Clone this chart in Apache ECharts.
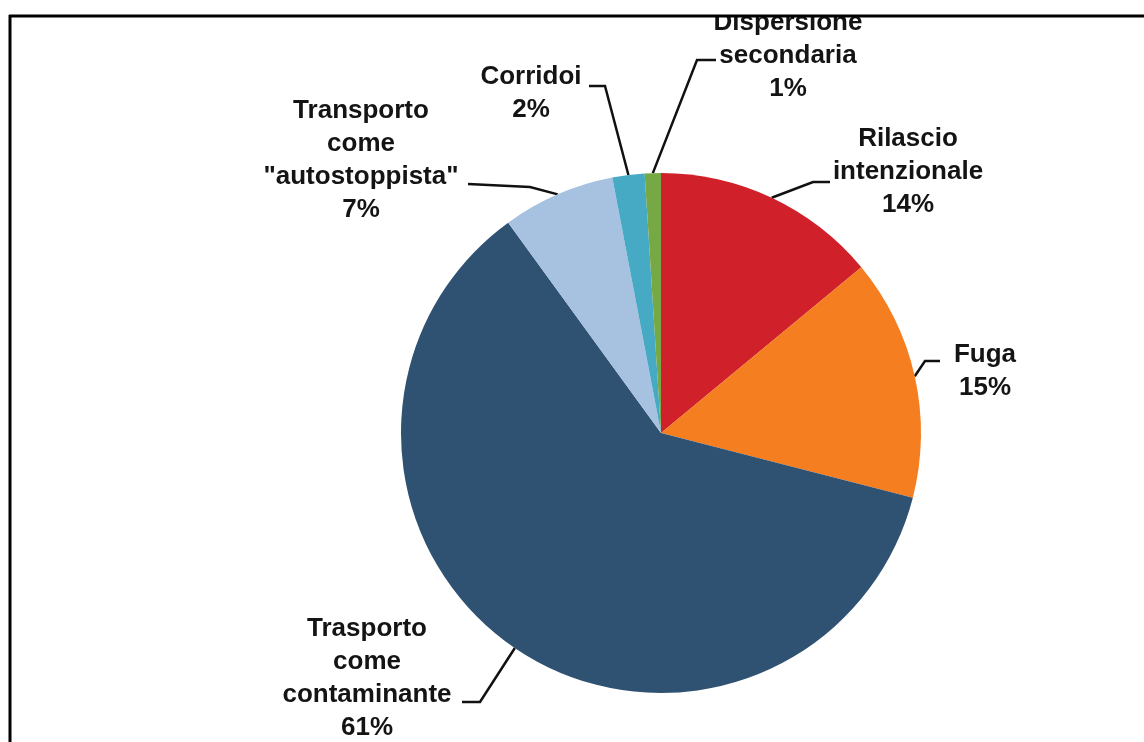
<!DOCTYPE html>
<html>
<head>
<meta charset="utf-8">
<script src="https://cdn.jsdelivr.net/npm/echarts@6/dist/echarts.min.js"></script>
<style>
html,body{margin:0;padding:0;background:#fff;}
#chart{width:1144px;height:742px;}
</style>
</head>
<body>
<div id="chart"></div>
<script>
// Data
const categories = [
  'Rilascio\nintenzionale',
  'Fuga',
  'Trasporto\ncome\ncontaminante',
  'Transporto\ncome\n"autostoppista"',
  'Corridoi',
  'Dispersione\nsecondaria'
];
const values = [14, 15, 61, 7, 2, 1];
const colors = ['#D0202A', '#F47E20', '#2F5172', '#A7C1E1', '#46AAC4', '#76A846'];

// Label layout (style): label block centre and label-line elbow/end points
const labelCenters = [[908, 172], [985, 371], [367, 678], [361, 160], [531, 93], [788, 56]];
const labelElbows = [
  [[813, 182], [830, 182]],
  [[925, 361], [940, 361]],
  [[480, 702], [462, 702]],
  [[530, 187], [468, 184]],
  [[605, 86], [589, 86]],
  [[697, 60], [716, 60]]
];

const chart = echarts.init(document.getElementById('chart'));
chart.setOption({
  animation: false,
  backgroundColor: '#fff',
  graphic: [
    { type: 'rect', z: 100, shape: { x: 0, y: 0, width: 1144, height: 15 }, style: { fill: '#fff' } },
    { type: 'line', z: 101, shape: { x1: 9, y1: 16, x2: 1144, y2: 16 }, style: { stroke: '#000', lineWidth: 3 } },
    { type: 'line', z: 101, shape: { x1: 10, y1: 15, x2: 10, y2: 742 }, style: { stroke: '#000', lineWidth: 3 } }
  ],
  series: [{
    type: 'pie',
    center: [661, 433],
    radius: 260,
    startAngle: 90,
    clockwise: true,
    avoidLabelOverlap: false,
    data: categories.map((c, i) => ({ name: c, value: values[i], itemStyle: { color: colors[i] } })),
    itemStyle: { borderWidth: 0 },
    label: {
      show: true,
      position: 'outside',
      formatter: p => p.name + '\n' + p.value + '%',
      fontFamily: 'Liberation Sans, Arial, sans-serif',
      fontWeight: 'bold',
      fontSize: 26,
      lineHeight: 33,
      color: '#141414',
      align: 'center'
    },
    labelLine: {
      show: true,
      lineStyle: { color: '#111', width: 2.5 }
    },
    emphasis: { disabled: true },
    labelLayout: function (params) {
      const i = params.dataIndex;
      const start = params.labelLinePoints ? params.labelLinePoints[0] : null;
      const out = {
        x: labelCenters[i][0],
        y: labelCenters[i][1],
        align: 'center',
        verticalAlign: 'middle'
      };
      if (start) {
        out.labelLinePoints = [start, labelElbows[i][0], labelElbows[i][1]];
      }
      return out;
    }
  }]
});
</script>
</body>
</html>
